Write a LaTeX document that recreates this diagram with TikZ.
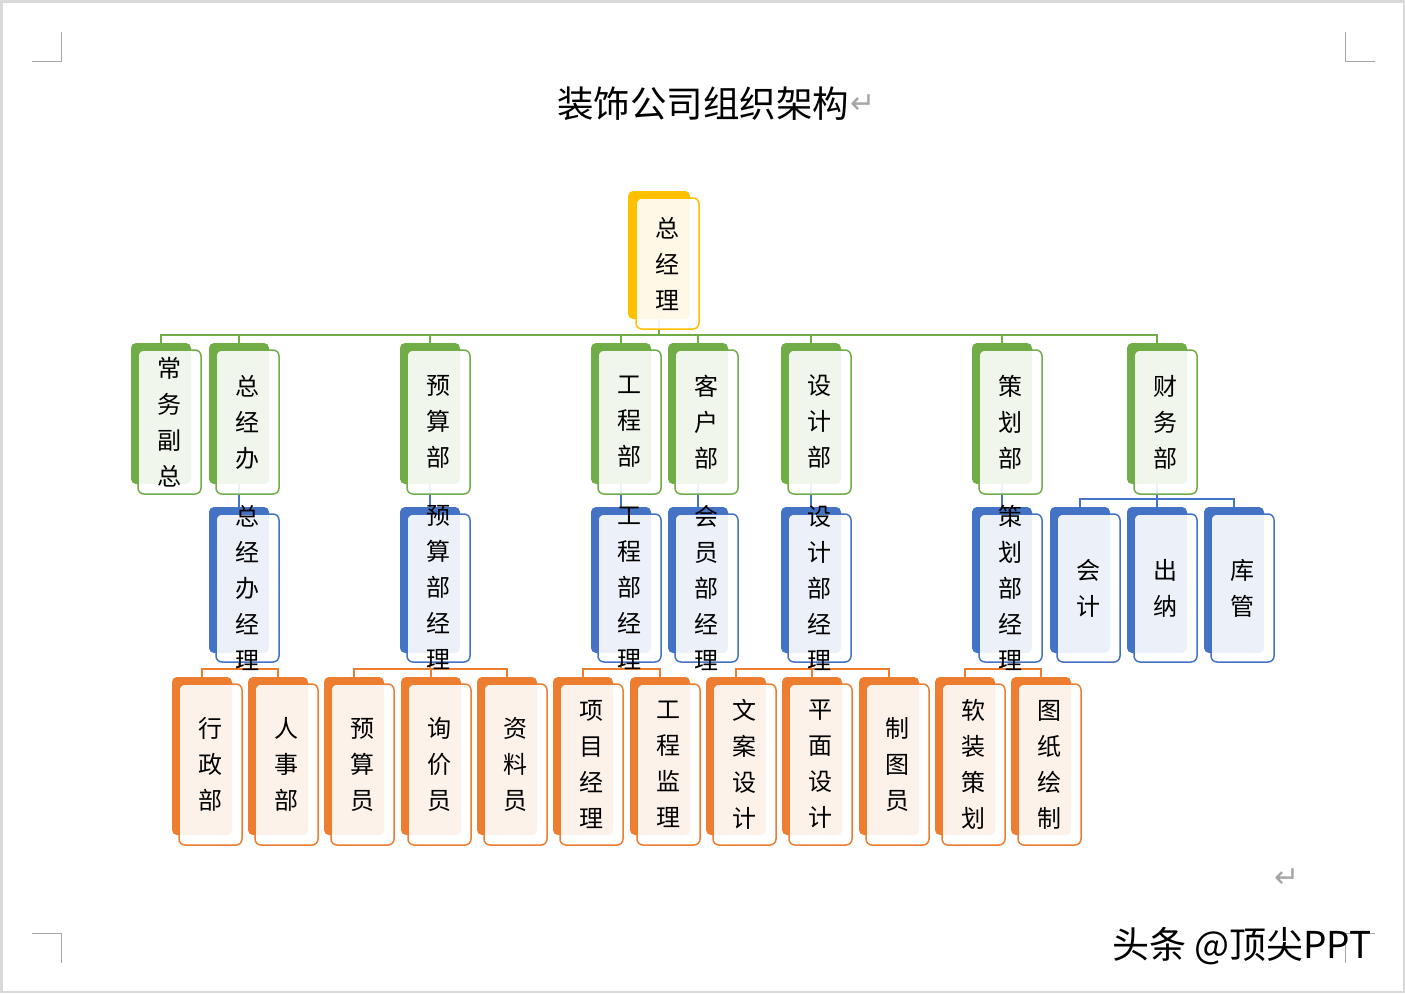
\documentclass[tikz,border=0pt]{standalone}
\usepackage{fontspec}
\usepackage{tikz}
\usetikzlibrary{positioning,backgrounds}
\newfontfamily\cjk{Noto Sans CJK SC}
\newfontfamily\symb{DejaVu Sans}
\definecolor{dgreen}{RGB}{112, 173, 71}
\definecolor{dblue}{RGB}{68, 114, 196}
\definecolor{dorange}{RGB}{237, 125, 49}
\definecolor{dyellow}{RGB}{255, 192, 0}
\definecolor{markgray}{RGB}{166, 166, 166}
\tikzstyle{shade} = [inner sep=0pt, outer sep=0pt, anchor=north west, rounded corners=5pt, minimum width=60pt]
\tikzstyle{card} = [inner sep=0pt, outer sep=0pt, rounded corners=6pt, line width=1.5pt, fill=white, fill opacity=0.9, minimum width=63pt]
\tikzstyle{cardtext} = [inner sep=0pt, align=center, text=black, text opacity=1, fill opacity=1, font=\cjk\fontsize{24}{36}\selectfont]
\tikzstyle{yshade} = [shade, fill=dyellow, minimum width=62pt, minimum height=128pt]
\tikzstyle{ycard} = [card, draw=dyellow, minimum height=131pt]
\tikzstyle{gshade} = [shade, fill=dgreen, minimum height=141pt]
\tikzstyle{gcard} = [card, draw=dgreen, minimum height=144pt]
\tikzstyle{bshade} = [shade, fill=dblue, minimum height=146pt]
\tikzstyle{bcard} = [card, draw=dblue, minimum height=148pt]
\tikzstyle{oshade} = [shade, fill=dorange, minimum height=158pt]
\tikzstyle{ocard} = [card, draw=dorange, minimum height=161pt]
\tikzstyle{gedge} = [draw=dgreen, line width=2pt]
\tikzstyle{bedge} = [draw=dblue, line width=1.6pt]
\tikzstyle{oedge} = [draw=dorange, line width=1.6pt]
\tikzstyle{crop} = [draw=markgray, line width=1pt]
\tikzstyle{retmark} = [text=markgray, font=\symb\fontsize{30}{32}\selectfont, inner sep=0pt]

\begin{document}
\begin{tikzpicture}[x=1pt, y=-1pt]

% page =============================
\useasboundingbox (0,0) rectangle (1405,993);
\begin{scope}[on background layer]
\fill[white] (0,0) rectangle (1405,993);
\end{scope}
\draw[gray!30, line width=2.5pt] (1.25,1.25) rectangle (1403.75,991.75);
\path[crop] (32,61) -| (61,32);
\path[crop] (1375,61) -| (1345,32);
\path[crop] (32,933) -| (61,963);
\path[crop] (1375,933) -| (1345,963);

\node[font=\cjk\fontsize{36.5}{40}\selectfont, inner sep=0pt] (title) at (703,104) {装饰公司组织架构};
\node[retmark, right=1pt of title] (ret1) {↵};
\node[retmark] (ret2) at (1287,878) {↵};
\node[font=\cjk\fontsize{37}{40}\selectfont, anchor=west, inner sep=0pt] (mark) at (1112,946) {头条 @顶尖PPT};

% top =============================
\node[yshade] (zjl-s) at (628,191) {};
\node[ycard, below right=7pt and 8pt of zjl-s.north west, label={[cardtext]center:总\\经\\理}] (zjl) {};

% level 1 =============================
\node[gshade] (cwfz-s) at (131,343) {};
\node[gcard, below right=7pt and 7pt of cwfz-s.north west, label={[cardtext]center:常\\务\\副\\总}] (cwfz) {};
\node[gshade] (zjb-s) at (209,343) {};
\node[gcard, below right=7pt and 7pt of zjb-s.north west, label={[cardtext]center:总\\经\\办}] (zjb) {};
\node[gshade] (ysb-s) at (400,343) {};
\node[gcard, below right=7pt and 7pt of ysb-s.north west, label={[cardtext]center:预\\算\\部}] (ysb) {};
\node[gshade] (gcb-s) at (591,343) {};
\node[gcard, below right=7pt and 7pt of gcb-s.north west, label={[cardtext]center:工\\程\\部}] (gcb) {};
\node[gshade] (khb-s) at (668,343) {};
\node[gcard, below right=7pt and 7pt of khb-s.north west, label={[cardtext]center:客\\户\\部}] (khb) {};
\node[gshade] (sjb-s) at (781,343) {};
\node[gcard, below right=7pt and 7pt of sjb-s.north west, label={[cardtext]center:设\\计\\部}] (sjb) {};
\node[gshade] (chb-s) at (972,343) {};
\node[gcard, below right=7pt and 7pt of chb-s.north west, label={[cardtext]center:策\\划\\部}] (chb) {};
\node[gshade] (cwb-s) at (1127,343) {};
\node[gcard, below right=7pt and 7pt of cwb-s.north west, label={[cardtext]center:财\\务\\部}] (cwb) {};

% level 2 =============================
\node[bshade] (zjbjl-s) at (209,507) {};
\node[bcard, below right=7pt and 7pt of zjbjl-s.north west, label={[cardtext]center:总\\经\\办\\经\\理}] (zjbjl) {};
\node[bshade] (ysbjl-s) at (400,507) {};
\node[bcard, below right=7pt and 7pt of ysbjl-s.north west, label={[cardtext]center:预\\算\\部\\经\\理}] (ysbjl) {};
\node[bshade] (gcbjl-s) at (591,507) {};
\node[bcard, below right=7pt and 7pt of gcbjl-s.north west, label={[cardtext]center:工\\程\\部\\经\\理}] (gcbjl) {};
\node[bshade] (hybjl-s) at (668,507) {};
\node[bcard, below right=7pt and 7pt of hybjl-s.north west, label={[cardtext]center:会\\员\\部\\经\\理}] (hybjl) {};
\node[bshade] (sjbjl-s) at (781,507) {};
\node[bcard, below right=7pt and 7pt of sjbjl-s.north west, label={[cardtext]center:设\\计\\部\\经\\理}] (sjbjl) {};
\node[bshade] (chbjl-s) at (972,507) {};
\node[bcard, below right=7pt and 7pt of chbjl-s.north west, label={[cardtext]center:策\\划\\部\\经\\理}] (chbjl) {};
\node[bshade] (kj-s) at (1050,507) {};
\node[bcard, below right=7pt and 7pt of kj-s.north west, label={[cardtext]center:会\\计}] (kj) {};
\node[bshade] (cn-s) at (1127,507) {};
\node[bcard, below right=7pt and 7pt of cn-s.north west, label={[cardtext]center:出\\纳}] (cn) {};
\node[bshade] (kg-s) at (1204,507) {};
\node[bcard, below right=7pt and 7pt of kg-s.north west, label={[cardtext]center:库\\管}] (kg) {};

% level 3 =============================
\node[oshade] (xzb-s) at (172,677) {};
\node[ocard, below right=7pt and 7pt of xzb-s.north west, label={[cardtext]center:行\\政\\部}] (xzb) {};
\node[oshade] (rsb-s) at (248,677) {};
\node[ocard, below right=7pt and 7pt of rsb-s.north west, label={[cardtext]center:人\\事\\部}] (rsb) {};
\node[oshade] (ysy-s) at (324,677) {};
\node[ocard, below right=7pt and 7pt of ysy-s.north west, label={[cardtext]center:预\\算\\员}] (ysy) {};
\node[oshade] (xjy-s) at (401,677) {};
\node[ocard, below right=7pt and 7pt of xjy-s.north west, label={[cardtext]center:询\\价\\员}] (xjy) {};
\node[oshade] (zly-s) at (477,677) {};
\node[ocard, below right=7pt and 7pt of zly-s.north west, label={[cardtext]center:资\\料\\员}] (zly) {};
\node[oshade] (xmjl-s) at (553,677) {};
\node[ocard, below right=7pt and 7pt of xmjl-s.north west, label={[cardtext]center:项\\目\\经\\理}] (xmjl) {};
\node[oshade] (gcjl-s) at (630,677) {};
\node[ocard, below right=7pt and 7pt of gcjl-s.north west, label={[cardtext]center:工\\程\\监\\理}] (gcjl) {};
\node[oshade] (wasj-s) at (706,677) {};
\node[ocard, below right=7pt and 7pt of wasj-s.north west, label={[cardtext]center:文\\案\\设\\计}] (wasj) {};
\node[oshade] (pmsj-s) at (782,677) {};
\node[ocard, below right=7pt and 7pt of pmsj-s.north west, label={[cardtext]center:平\\面\\设\\计}] (pmsj) {};
\node[oshade] (zty-s) at (859,677) {};
\node[ocard, below right=7pt and 7pt of zty-s.north west, label={[cardtext]center:制\\图\\员}] (zty) {};
\node[oshade] (rzch-s) at (935,677) {};
\node[ocard, below right=7pt and 7pt of rzch-s.north west, label={[cardtext]center:软\\装\\策\\划}] (rzch) {};
\node[oshade] (tzhz-s) at (1011,677) {};
\node[ocard, below right=7pt and 7pt of tzhz-s.north west, label={[cardtext]center:图\\纸\\绘\\制}] (tzhz) {};

% edges =============================
\begin{scope}[on background layer]
\coordinate (bus0) at (zjl-s.south |- 0,335);
\path[gedge] (zjl-s.south) -- (bus0);
\path[gedge] (bus0) -| (cwfz-s.north);
\path[gedge] (bus0) -| (zjb-s.north);
\path[gedge] (bus0) -| (ysb-s.north);
\path[gedge] (bus0) -| (gcb-s.north);
\path[gedge] (bus0) -| (khb-s.north);
\path[gedge] (bus0) -| (sjb-s.north);
\path[gedge] (bus0) -| (chb-s.north);
\path[gedge] (bus0) -| (cwb-s.north);

\path[bedge] (zjb-s.south) -- (zjbjl-s.north);
\path[bedge] (ysb-s.south) -- (ysbjl-s.north);
\path[bedge] (gcb-s.south) -- (gcbjl-s.north);
\path[bedge] (khb-s.south) -- (hybjl-s.north);
\path[bedge] (sjb-s.south) -- (sjbjl-s.north);
\path[bedge] (chb-s.south) -- (chbjl-s.north);
\coordinate (bus1) at (cwb-s.south |- 0,499);
\path[bedge] (cwb-s.south) -- (bus1);
\path[bedge] (bus1) -| (kj-s.north);
\path[bedge] (bus1) -| (cn-s.north);
\path[bedge] (bus1) -| (kg-s.north);

\coordinate (bus2) at (zjbjl-s.south |- 0,669);
\path[oedge] (zjbjl-s.south) -- (bus2);
\path[oedge] (bus2) -| (xzb-s.north);
\path[oedge] (bus2) -| (rsb-s.north);
\coordinate (bus3) at (ysbjl-s.south |- 0,669);
\path[oedge] (ysbjl-s.south) -- (bus3);
\path[oedge] (bus3) -| (ysy-s.north);
\path[oedge] (bus3) -| (xjy-s.north);
\path[oedge] (bus3) -| (zly-s.north);
\coordinate (bus4) at (gcbjl-s.south |- 0,669);
\path[oedge] (gcbjl-s.south) -- (bus4);
\path[oedge] (bus4) -| (xmjl-s.north);
\path[oedge] (bus4) -| (gcjl-s.north);
\coordinate (bus5) at (sjbjl-s.south |- 0,669);
\path[oedge] (sjbjl-s.south) -- (bus5);
\path[oedge] (bus5) -| (wasj-s.north);
\path[oedge] (bus5) -| (pmsj-s.north);
\path[oedge] (bus5) -| (zty-s.north);
\coordinate (bus6) at (chbjl-s.south |- 0,669);
\path[oedge] (chbjl-s.south) -- (bus6);
\path[oedge] (bus6) -| (rzch-s.north);
\path[oedge] (bus6) -| (tzhz-s.north);
\end{scope}

\end{tikzpicture}
\end{document}
